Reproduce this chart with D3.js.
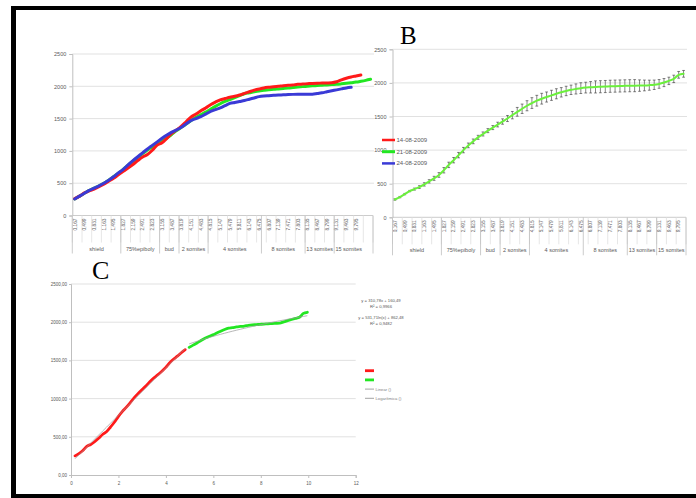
<!DOCTYPE html>
<html>
<head>
<meta charset="utf-8">
<script src="https://cdn.jsdelivr.net/npm/d3@7"></script>
<style>
body { margin: 0; background: #fff; }
svg { display: block; }
</style>
</head>
<body>
<script>
// time points (hours) of the 62 categories, labels only shown for every second one
var hours = [0.167,0.333,0.499,0.665,0.831,0.997,1.163,1.329,1.495,1.661,1.827,1.993,2.159,2.325,2.491,2.657,
  2.823,2.989,3.155,3.321,3.487,3.653,3.819,3.985,4.151,4.317,4.483,4.649,4.815,4.981,5.147,5.313,5.479,5.645,
  5.811,5.977,6.143,6.309,6.475,6.641,6.807,6.973,7.139,7.305,7.471,7.637,7.803,7.969,8.135,8.301,8.467,8.633,
  8.799,8.965,9.131,9.297,9.463,9.629,9.795,9.961,10.127,10.293];
var tickLabels = ["0,167","0,499","0,831","1,163","1,495","1,827","2,159","2,491","2,823","3,155","3,487",
  "3,819","4,151","4,483","4,815","5,147","5,479","5,811","6,143","6,475","6,807","7,139","7,471","7,803",
  "8,135","8,467","8,799","9,131","9,463","9,795"];

// developmental stages (second level of the category axis)
var stages = ["shield","75%epiboly","bud","2 somites","4 somites","8 somites","13 somites","15 somites"];
var stageFirst = [0,10,18,22,28,39,48,54];
var stageLast = [9,17,21,27,38,47,53,59];

// panel A: three embryos
var dates = ["14-08-2009","21-08-2009","24-08-2009"];
var red = [260,300,350,380,410,445,485,530,575,630,685,735,790,850,905,945,1010,1090,1125,1195,1270,1325,
  1385,1455,1525,1570,1620,1665,1715,1755,1790,1810,1830,1845,1865,1890,1915,1940,1958,1975,1985,1992,2000,
  2010,2015,2022,2030,2035,2040,2045,2048,2050,2052,2055,2070,2100,2125,2145,2160,2175];
var green = [255,300,345,390,425,460,500,545,600,655,715,780,840,900,960,1015,1060,1110,1155,1200,1255,1315,
  1365,1415,1470,1520,1560,1600,1645,1690,1730,1765,1795,1825,1855,1885,1900,1915,1928,1937,1946,1954,1960,
  1966,1972,1980,1988,1995,2001,2008,2014,2018,2022,2027,2031,2038,2046,2055,2065,2078,2092,2108];
var blue = [255,300,345,390,425,460,500,545,600,660,715,785,850,910,970,1030,1085,1140,1195,1245,1290,1325,
  1365,1420,1470,1500,1530,1570,1610,1640,1665,1700,1735,1750,1765,1780,1800,1820,1840,1850,1855,1860,1865,
  1868,1872,1875,1876,1876,1876,1877,1888,1900,1915,1930,1945,1960,1975,1985];

// panel B: mean and error
var mean = [265,300,345,390,420,450,490,535,580,630,700,780,850,925,1000,1070,1130,1190,1240,1290,1335,1380,
  1425,1470,1520,1570,1615,1660,1700,1735,1765,1790,1815,1838,1860,1880,1897,1910,1922,1930,1935,1940,1943,
  1946,1950,1952,1954,1956,1958,1959,1960,1962,1966,1972,1985,2005,2030,2060,2120,2135];
var meanErr = [10,10,10,10,15,20,25,25,30,35,40,40,40,40,40,35,35,30,30,30,30,35,40,45,55,65,70,75,80,80,
  80,75,75,75,70,70,70,75,80,80,85,90,90,90,90,90,90,90,90,90,85,80,75,70,65,60,55,55,50,50];

// panel C: before and after 4.8 h
var early = [250,280,320,375,400,435,480,530,565,625,690,765,830,885,945,1010,1065,1115,1165,1220,1270,1310,
  1355,1405,1465,1515,1555,1600,1640];
var late = [1670,1700,1728,1760,1790,1812,1834,1858,1882,1905,1922,1928,1938,1944,1950,1958,1964,1968,1972,
  1976,1978,1982,1985,1988,2005,2020,2035,2050,2065,2115,2130];
var linFit = [310.78, 160.49];
var logFit = [531.71, 862.48];
var fitTexts = ["y = 310,78x + 160,49", "R\u00b2 = 0,9966", "y = 531,71ln(x) + 862,48", "R\u00b2 = 0,9482"];
var legendC = ["", "", "Linear ()", "Logar\u00edtmica ()"];

var colRed = "#ff1a1a", colGreen = "#22e622", colBlue = "#3a3ad6", grid = "#d9d9d9", axisCol = "#bfbfbf";
var font = "Liberation Sans, Arial, sans-serif";

var svg = d3.select("body").append("svg").attr("width", 696).attr("height", 498);

// black frame
svg.append("rect").attr("x", 11).attr("y", 6).attr("width", 685).attr("height", 4).attr("fill", "#000");
svg.append("rect").attr("x", 11).attr("y", 6).attr("width", 5).attr("height", 492).attr("fill", "#000");
svg.append("rect").attr("x", 11).attr("y", 494).attr("width", 685).attr("height", 4).attr("fill", "#000");

function categoryPanel(n, left, right, top, bottom) {
  var g = svg.append("g");
  var x = d3.scaleBand().domain(d3.range(n)).range([left, right]);
  var y = d3.scaleLinear().domain([0, 2500]).range([bottom, top]);
  var bw = x.bandwidth();

  g.selectAll("line.grid").data([500, 1000, 1500, 2000, 2500]).enter().append("line")
    .attr("x1", left).attr("x2", right + 1)
    .attr("y1", function(d) { return y(d); }).attr("y2", function(d) { return y(d); })
    .attr("stroke", grid).attr("stroke-width", 0.8);

  var ya = g.append("g").attr("transform", "translate(" + left + ",0)")
    .call(d3.axisLeft(y).tickValues([0, 500, 1000, 1500, 2000, 2500]).tickFormat(d3.format("d"))
      .tickSize(3).tickPadding(3));
  ya.select(".domain").attr("stroke", axisCol);
  ya.selectAll(".tick line").attr("stroke", axisCol);
  ya.selectAll("text").attr("fill", "#595959").style("font", "5.5px " + font);

  // category axis line and minor separators
  g.append("line").attr("x1", left).attr("x2", right).attr("y1", bottom).attr("y2", bottom)
    .attr("stroke", axisCol).attr("stroke-width", 0.8);
  g.selectAll("line.sep").data(d3.range(0, n + 1, 2)).enter().append("line")
    .attr("x1", function(d) { return d < n ? x(d) : right; })
    .attr("x2", function(d) { return d < n ? x(d) : right; })
    .attr("y1", bottom).attr("y2", bottom + 27)
    .attr("stroke", "#e0e0e0").attr("stroke-width", 0.8);

  g.selectAll("text.cat").data(tickLabels).enter().append("text")
    .attr("transform", function(d, i) {
      return "translate(" + (x(i * 2) + bw / 2 + 1.8) + "," + (bottom + 3) + ")rotate(-90)";
    })
    .attr("text-anchor", "end")
    .attr("fill", "#666").style("font", "4.8px " + font)
    .text(function(d) { return d; });

  // stage groups
  var bounds = stageFirst.concat([n]);
  g.selectAll("line.stage").data(bounds).enter().append("line")
    .attr("x1", function(d) { return d < n ? x(d) : right; })
    .attr("x2", function(d) { return d < n ? x(d) : right; })
    .attr("y1", bottom).attr("y2", bottom + 38)
    .attr("stroke", axisCol).attr("stroke-width", 0.8);
  g.selectAll("text.stage").data(stages).enter().append("text")
    .attr("x", function(d, i) { return (x(stageFirst[i]) + x(stageLast[i]) + bw) / 2; })
    .attr("y", bottom + 35)
    .attr("text-anchor", "middle")
    .attr("fill", "#595959").style("font", "5.5px " + font)
    .text(function(d) { return d; });

  return { g: g, x: x, y: y, bw: bw };
}

// ---- panel A ----
var A = categoryPanel(62, 72.3, 373, 54, 215.5);
function seriesLine(P, values, color, width) {
  var line = d3.line()
    .x(function(d, i) { return P.x(i) + P.bw / 2; })
    .y(function(d) { return P.y(d); })
    .curve(d3.curveMonotoneX);
  P.g.append("path").datum(values).attr("d", line)
    .attr("fill", "none").attr("stroke", color).attr("stroke-width", width)
    .attr("stroke-linejoin", "round").attr("stroke-linecap", "round");
}
seriesLine(A, green, colGreen, 3);
seriesLine(A, red, colRed, 3);
seriesLine(A, blue, colBlue, 3);

// ---- panel B ----
var B = categoryPanel(60, 392.5, 686, 49.3, 217.3);
var err = B.g.selectAll("g.err").data(mean).enter().append("g")
  .attr("transform", function(d, i) { return "translate(" + (B.x(i) + B.bw / 2) + ",0)"; });
err.append("line")
  .attr("y1", function(d, i) { return B.y(d - meanErr[i]); })
  .attr("y2", function(d, i) { return B.y(d + meanErr[i]); })
  .attr("stroke", "#333").attr("stroke-width", 0.6);
err.append("line").attr("x1", -1.4).attr("x2", 1.4)
  .attr("y1", function(d, i) { return B.y(d + meanErr[i]); })
  .attr("y2", function(d, i) { return B.y(d + meanErr[i]); })
  .attr("stroke", "#333").attr("stroke-width", 0.6);
err.append("line").attr("x1", -1.4).attr("x2", 1.4)
  .attr("y1", function(d, i) { return B.y(d - meanErr[i]); })
  .attr("y2", function(d, i) { return B.y(d - meanErr[i]); })
  .attr("stroke", "#333").attr("stroke-width", 0.6);
seriesLine(B, mean, "#6bf03c", 2);

// legend of B (shared with A)
var legB = svg.append("g");
[colRed, colGreen, colBlue].forEach(function(c, i) {
  var yy = 140 + i * 11.7;
  legB.append("line").attr("x1", 382).attr("x2", 395).attr("y1", yy).attr("y2", yy)
    .attr("stroke", c).attr("stroke-width", i == 1 ? 3 : 2.5);
  legB.append("text").attr("x", 396.5).attr("y", yy + 2).attr("fill", "#595959")
    .style("font", "6px " + font).text(dates[i]);
});

svg.append("text").attr("x", 400).attr("y", 44).style("font", "25px Liberation Serif, DejaVu Serif, serif")
  .text("B");
svg.append("text").attr("x", 92).attr("y", 279).style("font", "26px Liberation Serif, DejaVu Serif, serif")
  .text("C");

// ---- panel C ----
var gC = svg.append("g");
var xC = d3.scaleLinear().domain([0, 12]).range([71, 355.7]);
var yC = d3.scaleLinear().domain([0, 2500]).range([475, 284]);
var fmt2 = function(v) { return d3.format(".2f")(v).replace(".", ","); };

gC.selectAll("line.grid").data([500, 1000, 1500, 2000, 2500]).enter().append("line")
  .attr("x1", 71).attr("x2", 355.7)
  .attr("y1", function(d) { return yC(d); }).attr("y2", function(d) { return yC(d); })
  .attr("stroke", grid).attr("stroke-width", 0.8);
var yaC = gC.append("g").attr("transform", "translate(71,0)")
  .call(d3.axisLeft(yC).tickValues([0, 500, 1000, 1500, 2000, 2500]).tickFormat(fmt2).tickSize(2).tickPadding(2));
var xaC = gC.append("g").attr("transform", "translate(0,475)")
  .call(d3.axisBottom(xC).tickValues([0, 2, 4, 6, 8, 10, 12]).tickSize(3).tickPadding(4));
[yaC, xaC].forEach(function(a) {
  a.select(".domain").attr("stroke", axisCol);
  a.selectAll(".tick line").attr("stroke", axisCol);
  a.selectAll("text").attr("fill", "#595959").style("font", "4.5px " + font);
});

var lineC = d3.line()
  .x(function(d) { return xC(d[0]); })
  .y(function(d) { return yC(d[1]); })
  .curve(d3.curveMonotoneX);
var earlyPts = early.map(function(v, i) { return [hours[i], v]; });
var latePts = late.map(function(v, i) { return [hours[i + early.length], v]; });
gC.append("path").datum(earlyPts).attr("d", lineC).attr("fill", "none")
  .attr("stroke", colRed).attr("stroke-width", 2.8).attr("stroke-linecap", "round");
gC.append("path").datum(latePts).attr("d", lineC).attr("fill", "none")
  .attr("stroke", colGreen).attr("stroke-width", 2.8).attr("stroke-linecap", "round");

// trend lines
var linPts = earlyPts.map(function(p) { return [p[0], linFit[0] * p[0] + linFit[1]]; });
var logPts = latePts.map(function(p) { return [p[0], logFit[0] * Math.log(p[0]) + logFit[1]]; });
[linPts, logPts].forEach(function(pts) {
  gC.append("path").datum(pts).attr("d", lineC).attr("fill", "none")
    .attr("stroke", "#9a9a9a").attr("stroke-width", 0.9).attr("stroke-opacity", 0.8);
});

gC.selectAll("text.fit").data(fitTexts).enter().append("text")
  .attr("x", 381).attr("y", function(d, i) { return [302, 308, 318.5, 324.5][i]; })
  .attr("text-anchor", "middle").attr("fill", "#595959").style("font", "4.2px " + font)
  .text(function(d) { return d; });

var legCol = [colRed, colGreen, "#8c8c8c", "#8c8c8c"];
legendC.forEach(function(t, i) {
  var yy = 370.7 + i * 9.2;
  gC.append("line").attr("x1", 365).attr("x2", 374).attr("y1", yy).attr("y2", yy)
    .attr("stroke", legCol[i]).attr("stroke-width", i < 2 ? 2.8 : 0.8);
  gC.append("text").attr("x", 375.5).attr("y", yy + 1.5).attr("fill", "#7f7f7f")
    .style("font", "4.2px " + font).text(t);
});
</script>
</body>
</html>
